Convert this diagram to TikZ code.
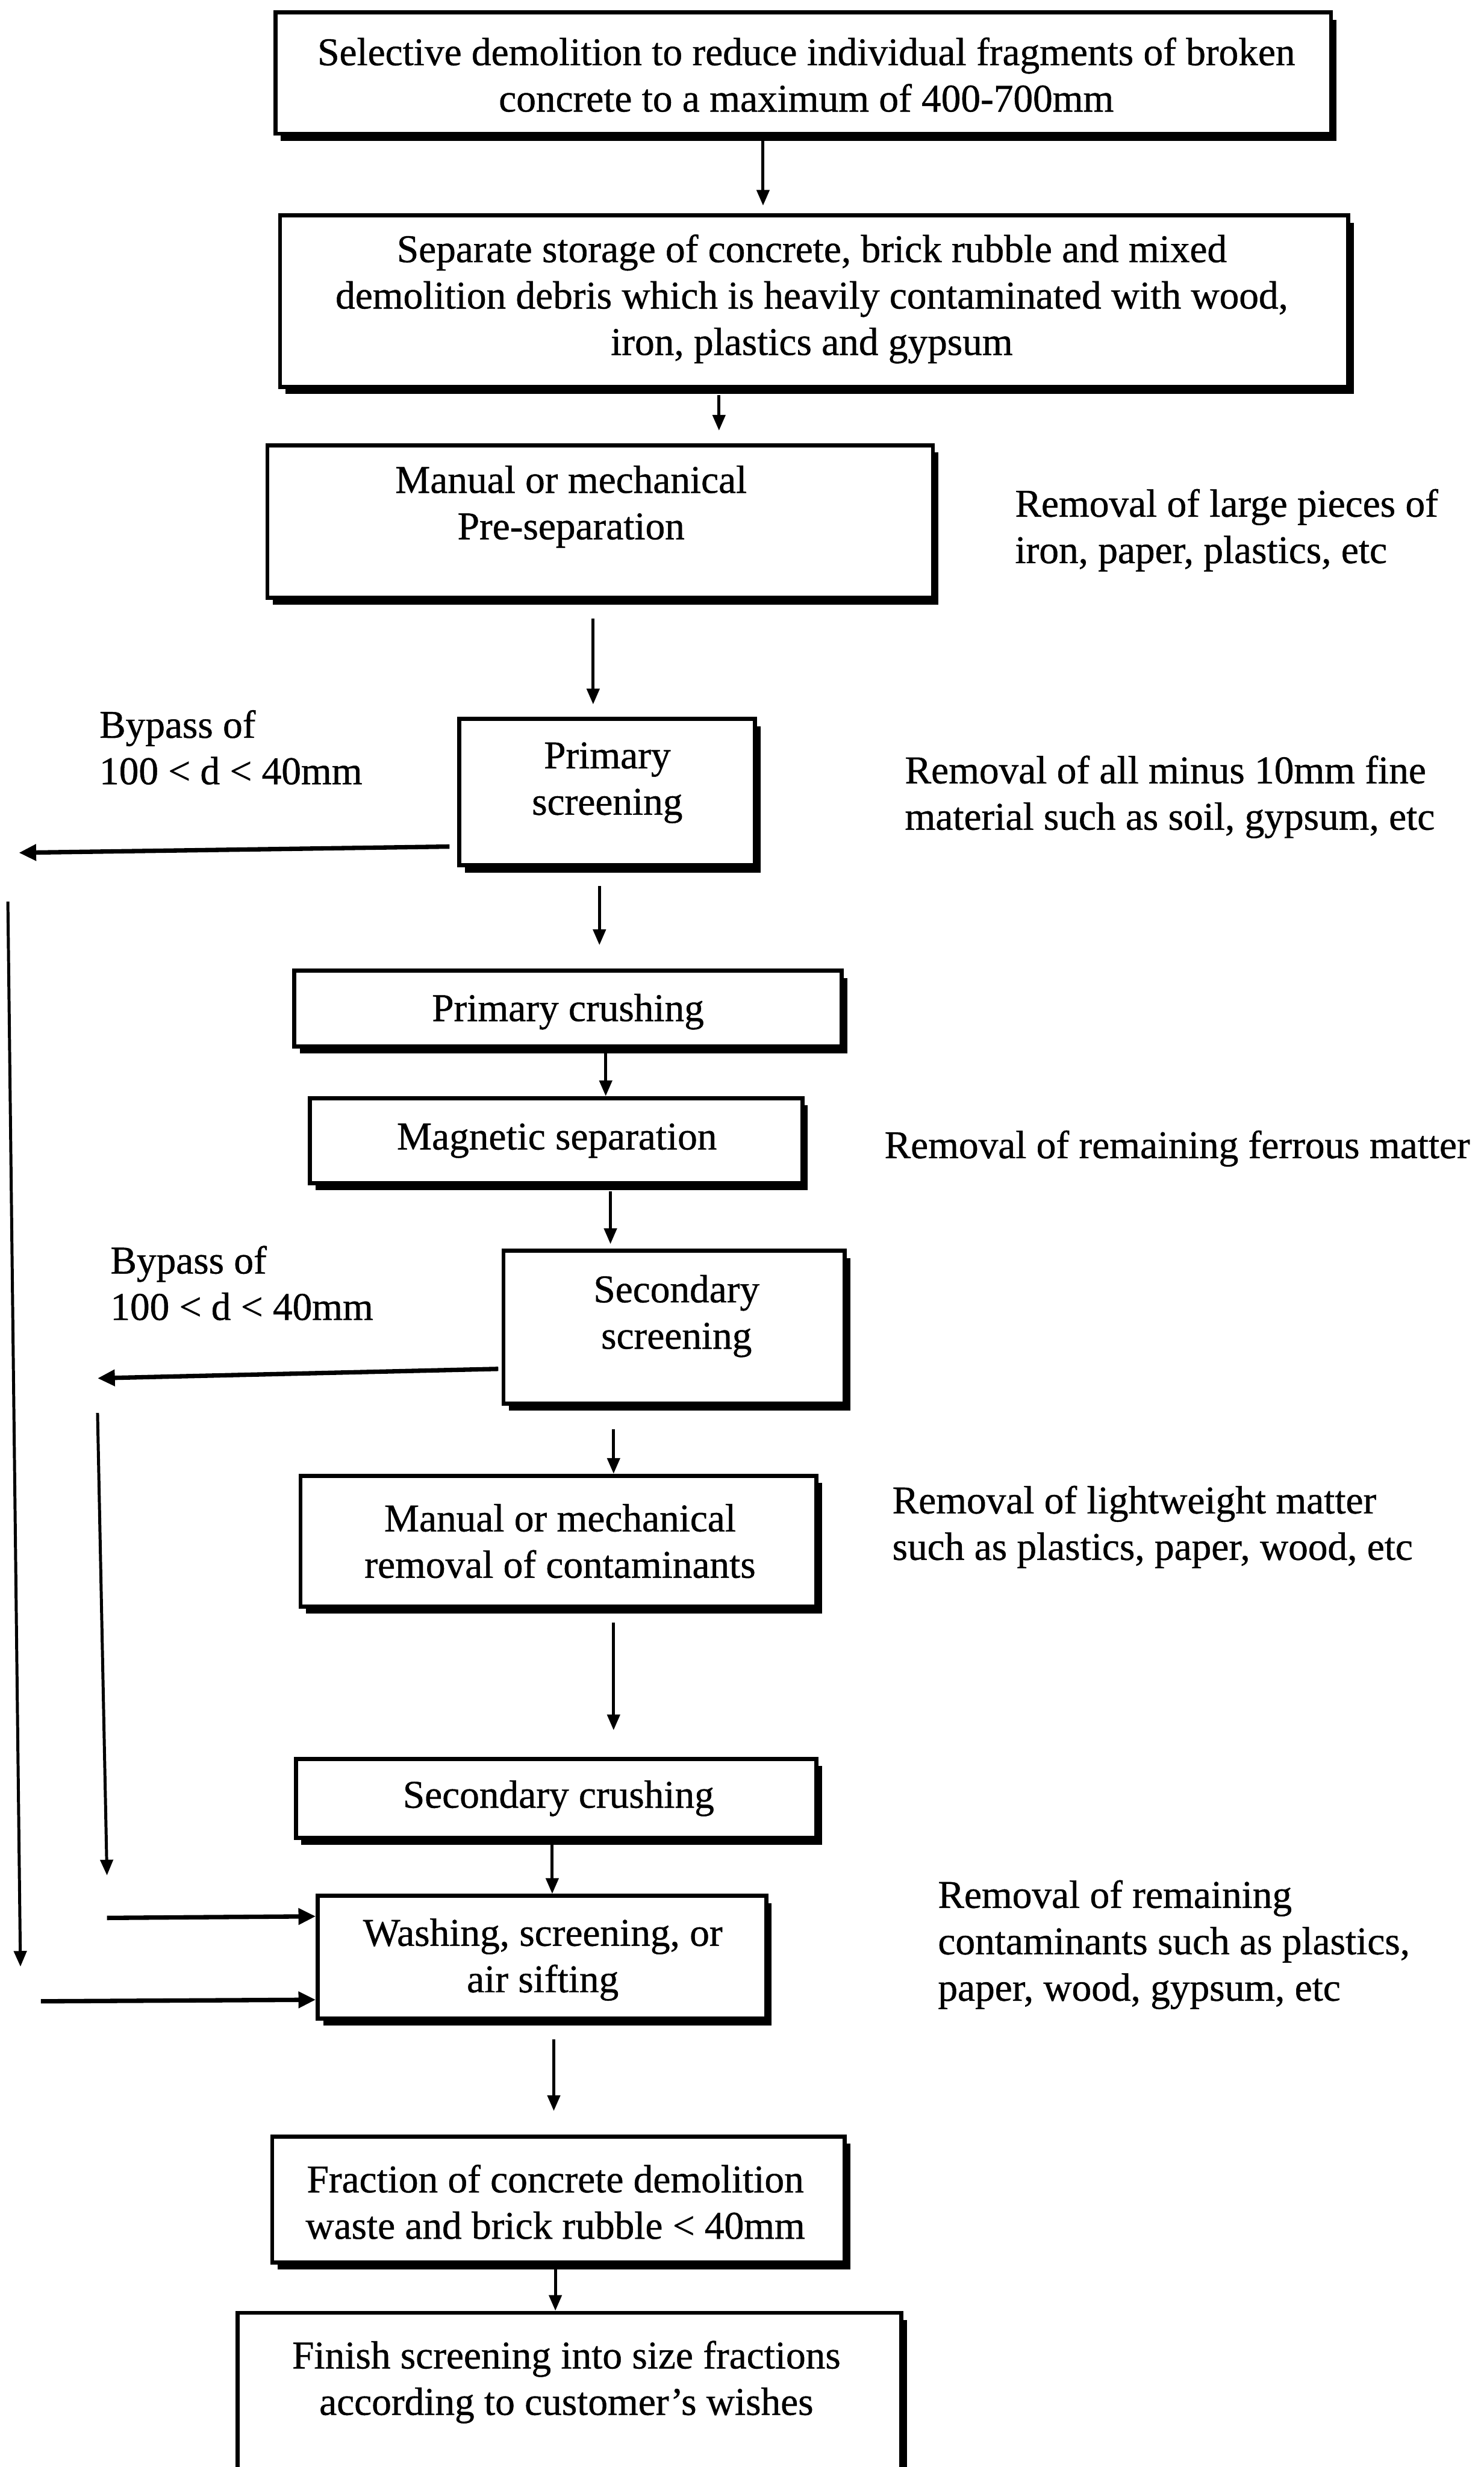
\documentclass[tikz,border=0pt]{standalone}
\usepackage{fontspec}
\setmainfont[FakeBold=0.7]{Liberation Serif}
\usetikzlibrary{arrows.meta,shadows}
\begin{document}
\begin{tikzpicture}[x=1pt,y=-1pt,
  box/.style={draw, line width=2.6pt, fill=white, inner sep=0pt,
    drop shadow={shadow xshift=3.5pt, shadow yshift=-4.5pt, fill=black, opacity=1}},
  txt/.style={inner sep=0pt, align=center, font=\fontsize{25}{29.5}\selectfont},
  side/.style={inner sep=0pt, align=left, anchor=west, font=\fontsize{25}{29.5}\selectfont},
  arr/.style={line width=1.9pt, -{Triangle[length=10pt,width=8pt]}},
  thk/.style={line width=2.8pt, -{Triangle[length=11pt,width=10pt]}}
]
\fill[white] (0,0) rectangle (943,1568);
\useasboundingbox (0,0) rectangle (943,1568);

% boxes
\node[box, minimum width=671pt, minimum height=77pt]  (b1)  at (510.5,46.5) {};
\node[box, minimum width=679pt, minimum height=109pt] (b2)  at (517.5,191.5) {};
\node[box, minimum width=423pt, minimum height=97pt]  (b3)  at (381.5,331.5) {};
\node[box, minimum width=188pt, minimum height=93pt]  (b4)  at (386,503.5) {};
\node[box, minimum width=348pt, minimum height=48pt]  (b5)  at (361,641) {};
\node[box, minimum width=313pt, minimum height=54pt]  (b6)  at (353.5,725) {};
\node[box, minimum width=217pt, minimum height=97pt]  (b7)  at (428.5,843.5) {};
\node[box, minimum width=328pt, minimum height=83pt]  (b8)  at (355,979.5) {};
\node[box, minimum width=331pt, minimum height=50pt]  (b9)  at (353.5,1143) {};
\node[box, minimum width=285pt, minimum height=78pt]  (b10) at (344.5,1244) {};
\node[box, minimum width=364pt, minimum height=80pt]  (b11) at (355,1398) {};
\node[box, minimum width=422pt, minimum height=150pt] (b12) at (362,1545) {};

% box texts
\node[txt] (t1)  at (512.5,47.5) {Selective demolition to reduce individual fragments of broken\\concrete to a maximum of 400-700mm};
\node[txt] (t2)  at (516,190) {Separate storage of concrete, brick rubble and mixed\\demolition debris which is heavily contaminated with wood,\\iron, plastics and gypsum};
\node[txt] (t3)  at (363,322) {Manual or mechanical\\Pre-separation};
\node[txt] (t4)  at (386,497.5) {Primary\\screening};
\node[txt] (t5)  at (361,643) {Primary crushing};
\node[txt] (t6)  at (354,725) {Magnetic separation};
\node[txt] (t7)  at (430,836.5) {Secondary\\screening};
\node[txt] (t8)  at (356,979.5) {Manual or mechanical\\removal of contaminants};
\node[txt] (t9)  at (355,1143) {Secondary crushing};
\node[txt] (t10) at (345,1245.5) {Washing, screening, or\\air sifting};
\node[txt] (t11) at (353,1399.5) {Fraction of concrete demolition\\waste and brick rubble < 40mm};
\node[txt] (t12) at (360,1514) {Finish screening into size fractions\\according to customer’s wishes};

% side texts
\node[side] (s1) at (645,337) {Removal of large pieces of\\iron, paper, plastics, etc};
\node[side] (s2) at (63,475) {Bypass of\\100 < d < 40mm};
\node[side] (s3) at (575,506.5) {Removal of all minus 10mm fine\\material such as soil, gypsum, etc};
\node[side] (s4) at (562,730) {Removal of remaining ferrous matter};
\node[side] (s5) at (70,815.5) {Bypass of\\100 < d < 40mm};
\node[side] (s6) at (567,970.5) {Removal of lightweight matter\\such as plastics, paper, wood, etc};
\node[side] (s7) at (596,1236) {Removal of remaining\\contaminants such as plastics,\\paper, wood, gypsum, etc};

% main flow arrows
\draw[arr, shorten >=5pt] (b1.south -| 485,0) -- (b2.north -| 485,0);
\draw[arr, shorten <=4pt, shorten >=8pt] (b2.south -| 457,0) -- (b3.north -| 457,0);
\draw[arr, shorten <=12pt, shorten >=8pt] (b3.south -| 377,0) -- (b4.north -| 377,0);
\draw[arr, shorten <=12pt, shorten >=15pt] (b4.south -| 381,0) -- (b5.north -| 381,0);
\draw[arr, shorten <=2pt] (b5.south -| 385,0) -- (b6.north -| 385,0);
\draw[arr, shorten <=4pt, shorten >=3pt] (b6.south -| 388,0) -- (b7.north -| 388,0);
\draw[arr, shorten <=15pt] (b7.south -| 390,0) -- (b8.north -| 390,0);
\draw[arr, shorten <=9pt, shorten >=17pt] (b8.south -| 390,0) -- (b9.north -| 390,0);
\draw[arr, shorten <=2pt] (b9.south -| 351,0) -- (b10.north -| 351,0);
\draw[arr, shorten <=12pt, shorten >=15pt] (b10.south -| 352,0) -- (b11.north -| 352,0);
\draw[arr, shorten <=1pt] (b11.south -| 353,0) -- (b12.north -| 353,0);

% bypass branches
\coordinate (p1) at (12,542);
\draw[thk, shorten <=5pt] (b4.west |- 0,538) -- (p1);
\coordinate (p2) at (62,876);
\draw[thk, shorten <=2pt] (b7.west |- 0,870) -- (p2);
\coordinate (l1a) at (5,573);
\coordinate (l1b) at (13,1250);
\draw[arr] (l1a) -- (l1b);
\coordinate (l2a) at (62,898);
\coordinate (l2b) at (68,1192);
\draw[arr] (l2a) -- (l2b);
\coordinate (i1) at (68,1219);
\draw[thk] (i1) -- (b10.west |- 0,1218);
\coordinate (i2) at (26,1272);
\draw[thk] (i2) -- (b10.west |- 0,1271);
\end{tikzpicture}
\end{document}
